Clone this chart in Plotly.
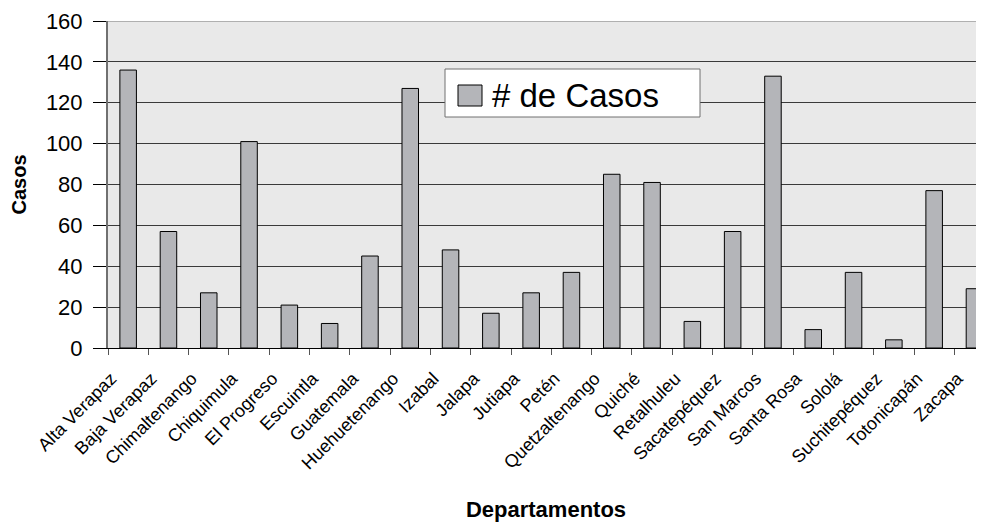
import plotly.graph_objects as go

departamentos = ["Alta Verapaz", "Baja Verapaz", "Chimaltenango", "Chiquimula", "El Progreso",
                 "Escuintla", "Guatemala", "Huehuetenango", "Izabal", "Jalapa", "Jutiapa", "Petén",
                 "Quetzaltenango", "Quiché", "Retalhuleu", "Sacatepéquez", "San Marcos", "Santa Rosa",
                 "Sololá", "Suchitepéquez", "Totonicapán", "Zacapa"]
casos = [136, 57, 27, 101, 21, 12, 45, 127, 48, 17, 27, 37, 85, 81, 13, 57, 133, 9, 37, 4, 77, 29]
y_ticks = [0, 20, 40, 60, 80, 100, 120, 140, 160]

W, H = 984, 523
OFF = 8  # page offset of the figure
L, T = 108 - OFF, 21 - OFF
PB_REF = 348
B = H - (PB_REF - OFF)
R = OFF
PW = 984 - 108
PH = PB_REF - 21

def px_x(p):
    return (p - 108) / PW

def px_y(p):
    return (PB_REF - p) / PH

FONT = "Arial, Liberation Sans, sans-serif"

fig = go.Figure()
fig.add_trace(go.Bar(
    x=departamentos, y=casos, name="# de Casos",
    marker=dict(color="#b4b5b9", line=dict(color="#000000", width=1)),
    width=0.41, showlegend=False,
))

fig.update_layout(
    width=W, height=H,
    margin=dict(l=L, r=R, t=T, b=B),
    paper_bgcolor="white",
    plot_bgcolor="#e9e9e9",
    font=dict(family=FONT, color="black"),
    xaxis=dict(
        range=[-0.5, -0.5 + PW / 40.3],
        tickangle=-45,
        tickfont=dict(size=18, family=FONT),
        ticks="outside", ticklen=6, tickcolor="#555", tickson="boundaries",
        showline=True, linecolor="#000", linewidth=1,
        showgrid=False,
        ticklabelshift=-17, ticklabelstandoff=12,
        title=dict(text="<b>Departamentos</b>", font=dict(size=22, family=FONT), standoff=29),
        automargin=False,
    ),
    yaxis=dict(
        range=[0, 160], tickvals=y_ticks,
        tickfont=dict(size=22, family=FONT),
        ticks="outside", ticklen=13, tickcolor="#000", ticklabelstandoff=6,
        showline=True, linecolor="#707070", linewidth=2,
        showgrid=True, gridcolor="#3a3a3a", gridwidth=1,
        zeroline=True, zerolinecolor="#000", zerolinewidth=1,
        title=dict(text="<b>Casos</b>", font=dict(size=20, family=FONT), standoff=22),
        automargin=False,
    ),
    shapes=[
        dict(type="line", xref="paper", yref="y", x0=0, x1=1, y0=160, y1=160,
             line=dict(color="#b0b0b0", width=2), layer="above"),
        dict(type="rect", xref="paper", yref="paper", x0=px_x(445), x1=px_x(700),
             y0=px_y(117), y1=px_y(69), fillcolor="white", line=dict(color="#707070", width=1),
             layer="above"),
        dict(type="rect", xref="paper", yref="paper", x0=px_x(458), x1=px_x(482),
             y0=px_y(106), y1=px_y(85), fillcolor="#b4b5b9", line=dict(color="#000", width=1),
             layer="above"),
    ],
    annotations=[
        dict(text="# de Casos", xref="paper", yref="paper", x=px_x(490), y=px_y(95),
             xanchor="left", yanchor="middle", showarrow=False,
             font=dict(size=33, family=FONT, color="black")),
    ],
)

fig.write_html("out.html")
